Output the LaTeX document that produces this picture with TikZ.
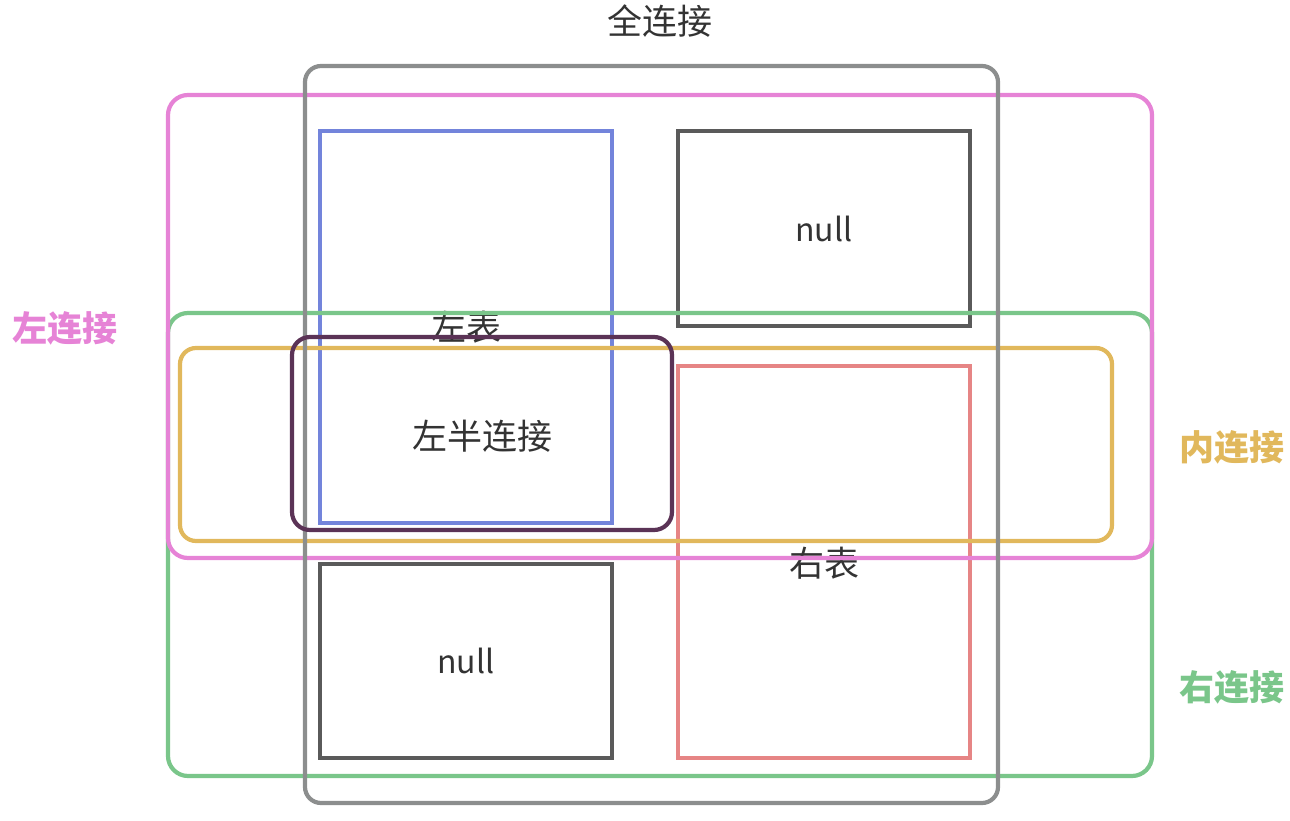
\documentclass[tikz,border=0pt]{standalone}
\usepackage{fontspec}
\setmainfont{Noto Sans CJK SC}
\definecolor{cgray}{HTML}{8C8E8E}
\definecolor{cpink}{HTML}{E683D6}
\definecolor{cgreen}{HTML}{7AC68A}
\definecolor{cyellow}{HTML}{E1B85C}
\definecolor{cpurple}{HTML}{5B3356}
\definecolor{cblue}{HTML}{7384DB}
\definecolor{cdark}{HTML}{5A5A5A}
\definecolor{cred}{HTML}{E68585}
\definecolor{ctext}{HTML}{333333}
\tikzset{
  box/.style={draw, line width=4.2pt, inner sep=0pt, rounded corners=#1},
  box/.default=0pt,
  lbl/.style={text=ctext, font=\fontsize{35}{40}\selectfont, inner sep=0pt},
  nulllbl/.style={text=ctext, font=\fontsize{32}{36}\selectfont, inner sep=0pt},
  side/.style={font=\fontsize{35}{40}\selectfont\bfseries, inner sep=0pt},
}
\begin{document}
\begin{tikzpicture}[x=1pt,y=-1pt]
\useasboundingbox (0,0) rectangle (1290,821);
% labels inside tables first
\node[lbl] (ltablbl) at (466,327) {左表};
\node[lbl] (rtablbl) at (824,563) {右表};
% tables
\node[box, draw=cblue, minimum width=292pt, minimum height=392pt] (ltab) at (466,327) {};
\node[box, draw=cred, minimum width=292pt, minimum height=392pt] (rtab) at (824,562) {};
\node[box, draw=cdark, minimum width=292pt, minimum height=195pt] (null1) at (824,228.5) {};
\node[box, draw=cdark, minimum width=292pt, minimum height=194pt] (null2) at (466,661) {};
\node[nulllbl] at (null1) {null};
\node[nulllbl] at (null2) {null};
% joins
\node[box=16pt, draw=cyellow, minimum width=932pt, minimum height=193pt] (inner) at (646,444.5) {};
\node[box=20pt, draw=cgreen, minimum width=984pt, minimum height=463pt] (right) at (660,544.5) {};
\node[box=20pt, draw=cpink, minimum width=984pt, minimum height=463pt] (left) at (660,326.5) {};
\node[box=16pt, draw=cgray, minimum width=693pt, minimum height=737pt] (full) at (651.5,434.5) {};
\node[box=18pt, draw=cpurple, minimum width=380pt, minimum height=193pt] (lefthalf) at (482,433.5) {};
\node[lbl] at (482,436) {左半连接};
% side labels
\node[lbl] (fulllbl) at (660,21) {全连接};
\node[side, text=cpink] (leftlbl) at (65,328) {左连接};
\node[side, text=cyellow] (innerlbl) at (1232,447) {内连接};
\node[side, text=cgreen] (rightlbl) at (1232,687) {右连接};
\end{tikzpicture}
\end{document}
